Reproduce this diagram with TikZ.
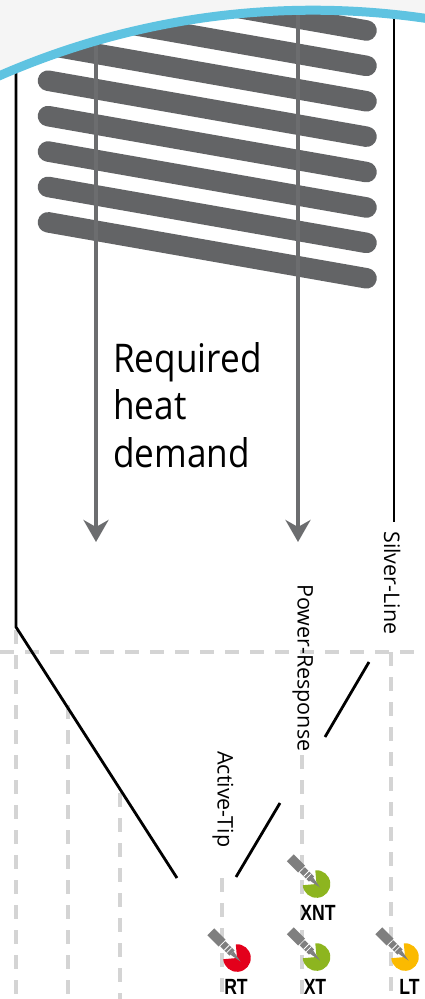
\documentclass[tikz,border=0pt]{standalone}
\usepackage{fontspec}
\setmainfont{Open Sans}
\newfontfamily\demandfont[FakeStretch=0.89]{Open Sans}
\newfontfamily\tagfont[FakeStretch=0.8]{Liberation Sans}
\usetikzlibrary{arrows.meta}

\definecolor{topgray}{HTML}{F5F5F5}
\definecolor{arcblue}{HTML}{5FC3E1}
\definecolor{slatgray}{HTML}{636466}
\definecolor{arrowgray}{HTML}{6C6D6F}
\definecolor{dashgray}{HTML}{D4D4D4}
\definecolor{pengray}{HTML}{7F7F7F}
\definecolor{rtred}{HTML}{E3001B}
\definecolor{xtgreen}{HTML}{8DB51F}
\definecolor{ltyellow}{HTML}{FBBA00}

\tikzset{
	slat/.style={slatgray, line width=20.5pt, line cap=round},
	demandarrow/.style={arrowgray, line width=3.6pt, -{Stealth[length=22pt, width=25pt, inset=7pt]}},
	guide/.style={black, line width=2.8pt},
	dashguide/.style={dashgray, line width=4.5pt, dash pattern=on 14pt off 11pt},
	curvename/.style={rotate=-90, anchor=base west, inner sep=0pt, font=\fontsize{21.5}{26}\selectfont},
	tiplabel/.style={anchor=base, inner sep=0pt, font=\tagfont\bfseries\fontsize{22}{26}\selectfont},
	pics/tipicon/.style={code={
		\fill[#1] (0,0) -- (-95:13.8) arc[start angle=-95, end angle=175, radius=13.8] -- cycle;
		\begin{scope}[shift={(3.5,3.5)}, rotate=135]
			\fill[pengray] (0,0) -- (12,-2.3) -- (12,2.3) -- cycle;
			\fill[pengray] (12,-3.6) rectangle (25,3.6);
			\draw[white, line width=0.8pt] (16,-3.6) -- (16,3.6) (19.5,-3.6) -- (19.5,3.6);
			\fill[pengray] (26,-4.9) rectangle (42,4.9);
		\end{scope}
	}}
}

\begin{document}
\begin{tikzpicture}[x=1pt, y=-1pt]
	\useasboundingbox (0,0) rectangle (425,999);
	\clip (0,0) rectangle (425,999);
	% slats
	\foreach \k in {0,...,7}
		\draw[slat] (48,{222.3-35.4*\k}) -- (366.5,{278.3-35.4*\k});
	% dashed guides
	\draw[dashguide] (0,652) -- (425,652);
	\draw[dashguide] (16,630) -- (16,999);
	\draw[dashguide] (68,705) -- (68,999);
	\draw[dashguide] (120,793) -- (120,999);
	\draw[dashguide] (222,878) -- (222,999);
	\draw[dashguide] (302,755) -- (302,999);
	\draw[dashguide] (391,652) -- (391,999);
	% black curves
	\coordinate (base top) at (16,66);
	\coordinate (base bend) at (16,627);
	\coordinate (base end) at (177,878);
	\draw[guide] (base top) -- (base bend) -- (base end);
	\coordinate (silver top) at (394,10);
	\coordinate (silver stop) at (394,522);
	\draw[guide] (silver top) -- (silver stop);
	\coordinate (silver from) at (369,662);
	\coordinate (silver to) at (325,737);
	\draw[guide] (silver from) -- (silver to);
	\coordinate (active from) at (280,803);
	\coordinate (active to) at (236,877);
	\draw[guide] (active from) -- (active to);
	% heat demand arrows
	\coordinate (heat left) at (96,38);
	\coordinate (heat left tip) at (96,542);
	\coordinate (heat right) at (298,4);
	\coordinate (heat right tip) at (298,542);
	\draw[demandarrow] (heat left) -- (heat left tip);
	\draw[demandarrow] (heat right) -- (heat right tip);
	% top arc
	\fill[topgray] (313,793) ++(-116:782.8) arc[start angle=-116, end angle=-78, radius=782.8] -- (480,-20) -- (-40,-20) -- cycle;
	\draw[arcblue, line width=9pt] (313,793) ++(-116:782.8) arc[start angle=-116, end angle=-78, radius=782.8];
	% texts
	\node[anchor=north west, inner sep=0pt, align=left, font=\demandfont\fontsize{39.5}{47.5}\selectfont] (demand) at (113,342) {Required\\heat\\demand};
	\node[curvename] (silver) at (384,531) {Silver-Line};
	\node[curvename] (power) at (297.7,584) {Power-Response};
	\node[curvename] (active) at (217.7,751) {Active-Tip};
	% tips
	\pic (xnt icon) at (316.5,884) {tipicon=xtgreen};
	\pic (rt icon) at (237,958) {tipicon=rtred};
	\pic (xt icon) at (316.5,957) {tipicon=xtgreen};
	\pic (lt icon) at (405,957) {tipicon=ltyellow};
	\node[tiplabel] (xnt) at (318,920) {XNT};
	\node[tiplabel] (rt) at (236,994) {RT};
	\node[tiplabel] (xt) at (315,994) {XT};
	\node[tiplabel] (lt) at (409.5,994) {LT};
\end{tikzpicture}
\end{document}
